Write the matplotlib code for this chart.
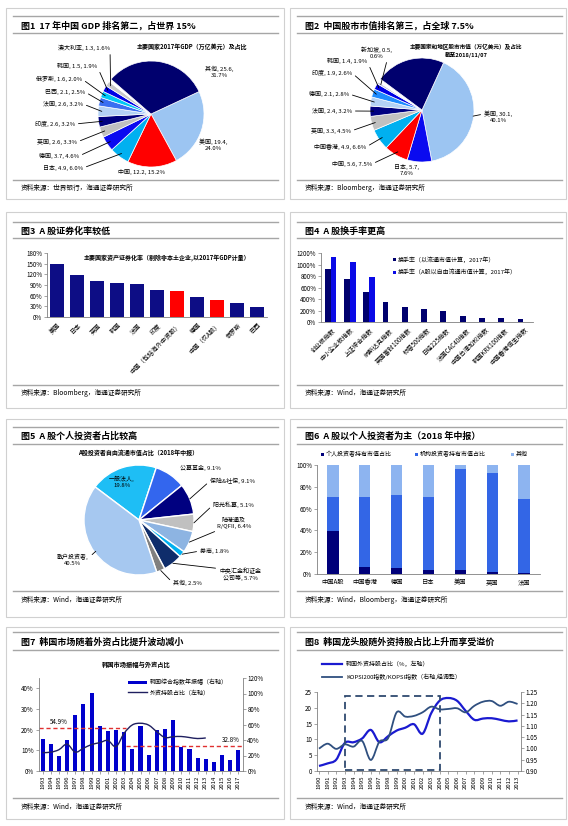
import numpy as np
import matplotlib
matplotlib.use('Agg')
import matplotlib.pyplot as plt
from matplotlib.patches import Rectangle, PathPatch
from matplotlib.path import Path
from matplotlib.lines import Line2D

plt.rcParams['font.family'] = ['Noto Sans CJK SC', 'DejaVu Sans']
plt.rcParams['axes.unicode_minus'] = False

W, H = 568, 826

# ---------------- data ----------------
titles = ['图1  17 年中国 GDP 排名第二，占世界 15%',
          '图2  中国股市市值排名第三，占全球 7.5%',
          '图3  A 股证券化率较低',
          '图4  A 股换手率更高',
          '图5  A 股个人投资者占比较高',
          '图6  A 股以个人投资者为主（2018 年中报）',
          '图7  韩国市场随着外资占比提升波动减小',
          '图8  韩国龙头股随外资持股占比上升而享受溢价']
sources = ['资料来源：世界银行，海通证券研究所',
           '资料来源：Bloomberg，海通证券研究所',
           '资料来源：Bloomberg，海通证券研究所',
           '资料来源：Wind，海通证券研究所',
           '资料来源：Wind，海通证券研究所',
           '资料来源：Wind，Bloomberg，海通证券研究所',
           '资料来源：Wind，海通证券研究所',
           '资料来源：Wind，海通证券研究所']

# fig 1: GDP 2017 (trillion USD) and share
gdp_names = ['美国', '中国', '日本', '德国', '英国', '印度', '法国', '巴西', '俄罗斯', '韩国', '澳大利亚', '', '其他']
gdp_values = [19.4, 12.2, 4.9, 3.7, 2.6, 2.6, 2.6, 2.1, 1.6, 1.5, 1.3, 0.7, 25.6]
gdp_shares = [24.0, 15.2, 6.0, 4.6, 3.3, 3.2, 3.2, 2.5, 2.0, 1.9, 1.6, 0.0, 31.7]
gdp_colors = ['#9CC5F2', '#FF0000', '#00B0F0', '#0A0AF0', '#C0C0C0', '#000080',
              '#B4D2F5', '#3A6EF0', '#00C8F5', '#0000E6', '#C8C8C8', '#FFFFFF', '#00006E']

# fig 2: stock market cap (trillion USD) and share
mcap_names = ['美国', '日本', '中国', '中国香港', '英国', '法国', '德国', '印度', '韩国', '新加坡', '', '其他']
mcap_values = [30.1, 5.7, 5.6, 4.9, 3.3, 2.4, 2.1, 1.9, 1.4, 0.5, 0.8, 16.2]
mcap_shares = [40.1, 7.6, 7.5, 6.6, 4.5, 3.2, 2.8, 2.6, 1.9, 0.6, 0.0, 0.0]
mcap_colors = ['#9CC5F2', '#0A0AF0', '#FF0000', '#00B0F0', '#C0C0C0', '#000080',
               '#B4D2F5', '#1E8CFF', '#0000E6', '#C8C8E0', '#FFFFFF', '#00006E']

# fig 3: securitization ratio
sec_names = ['美国', '日本', '英国', '韩国', '法国', '印度', '中国（包括海外中资股）',
             '德国', '中国（仅A股）', '俄罗斯', '巴西']
sec_values = [148, 118, 102, 95, 93, 75, 74, 55, 47, 40, 27]
sec_colors = ['#0D0D85'] * 6 + ['#FF0000', '#0D0D85', '#FF0000', '#0D0D85', '#0D0D85']

# fig 4: turnover
turn_names = ['创业板指数', '中小企业板指数', '上证综合指数', '纳斯达克指数', '英国富时100指数',
              '标普500指数', '日经225指数', '法国CAC40指数', '中国台湾加权指数',
              '韩国KRX100指数', '中国香港恒生指数']
turn_float = [915, 740, 525, 345, 255, 220, 200, 110, 65, 65, 55]
turn_free = [1135, 1045, 790, np.nan, np.nan, np.nan, np.nan, np.nan, np.nan, np.nan, np.nan]

# fig 5: A-share holders by free-float market cap
hold_names = ['一般法人', '公募基金', '保险&社保', '阳光私募', '陆港通及\nR/QFII', '券商',
              '中央汇金和证金\n公司等', '其他', '散户投资者']
hold_values = [19.8, 9.1, 9.1, 5.1, 6.4, 1.8, 5.7, 2.5, 40.5]
hold_colors = ['#1EBEF5', '#3366EE', '#000080', '#C0C0C0', '#8DB4E2', '#00B0F0',
               '#0F2D6B', '#808080', '#A6C8F0']

# fig 6: investor structure
inv_markets = ['中国A股', '中国香港', '德国', '日本', '美国', '英国', '法国']
inv_retail = [39.5, 6.0, 5.5, 4.0, 3.5, 2.0, 1.0]
inv_inst = [31.5, 64.5, 67.0, 66.5, 93.0, 91.0, 67.5]
inv_other = [29.0, 29.5, 27.5, 29.5, 3.5, 7.0, 31.5]
inv_labels = ['个人投资者持有市值占比', '机构投资者持有市值占比', '其他']
inv_colors = ['#00007A', '#3366E6', '#8DB4F0']

# fig 7: Korea amplitude (right) and foreign share (left)
k_years = list(range(1993, 2018))
k_amplitude = [40.9, 34.4, 18.9, 39.6, 71.8, 86.4, 101.0, 57.6, 51.2, 53.3, 50.3, 28.0, 58.0,
               20.2, 52.5, 53.8, 65.4, 31.0, 28.8, 16.8, 15.0, 11.2, 21.1, 13.8, 27.5]
k_amp_avg = [54.9, 32.8]

# fig 8: foreign share (left, %) and KOSPI200/KOSPI ratio (right), 1990-2013
f_years = list(range(1990, 2014))
foreign_share = [1.6, 2.4, 3.6, 8.9, 9.1, 10.3, 13.0, 9.1, 11.0, 12.8, 13.7, 14.8, 11.8,
                 18.3, 22.3, 23.1, 22.2, 19.0, 16.2, 16.6, 16.7, 16.2, 15.7, 16.0]
kospi_ratio = [0.999, 1.021, 0.998, 1.018, 1.008, 1.033, 0.949, 1.030, 1.045, 1.160, 1.141,
               1.144, 1.160, 1.185, 1.173, 1.175, 1.178, 1.160, 1.189, 1.207, 1.210, 1.189,
               1.207, 1.197]

# ---------------- helpers ----------------
fig = plt.figure(figsize=(W / 100, H / 100), dpi=100)
fig.patch.set_facecolor('white')


def fx(x):
    return x / W


def fy(y):
    return 1 - y / H


def px_axes(l, t, r, b):
    return fig.add_axes([fx(l), fy(b), (r - l) / W, (b - t) / H])


def ftext(x, y, s, **kw):
    kw.setdefault('va', 'center')
    fig.text(fx(x), fy(y), s, **kw)


def hline(x0, x1, y, color='#A6A6A6', lw=1.0, **kw):
    fig.add_artist(Line2D([fx(x0), fx(x1)], [fy(y), fy(y)], transform=fig.transFigure,
                          color=color, lw=lw, **kw))


def frect(x, y, w, h, color, **kw):
    fig.add_artist(Rectangle((fx(x), fy(y + h)), w / W, h / H, transform=fig.transFigure,
                             facecolor=color, **kw))


def style(ax, fs=4.5):
    for s in ['top', 'right']:
        ax.spines[s].set_visible(False)
    for s in ['left', 'bottom']:
        ax.spines[s].set_color('#808080')
        ax.spines[s].set_linewidth(0.6)
    ax.tick_params(labelsize=fs, length=2, width=0.5, color='#808080', pad=1.5)
    ax.set_facecolor('none')


def smooth_path(x, y):
    # smoothed line through the data points (cubic Bezier segments)
    x = np.asarray(x, float)
    y = np.asarray(y, float)
    n = len(x)
    verts = [(x[0], y[0])]
    codes = [Path.MOVETO]
    for i in range(n - 1):
        a, b = max(i - 1, 0), min(i + 2, n - 1)
        c1 = (x[i] + (x[i + 1] - x[a]) / 6, y[i] + (y[i + 1] - y[a]) / 6)
        c2 = (x[i + 1] - (x[b] - x[i]) / 6, y[i + 1] - (y[b] - y[i]) / 6)
        verts += [c1, c2, (x[i + 1], y[i + 1])]
        codes += [Path.CURVE4] * 3
    return Path(verts, codes)


def pie_axes(cx, cy, r):
    ax = px_axes(cx - r, cy - r, cx + r, cy + r)
    return ax


def pie_label(ax, wedge, text, tx, ty, ha='right', r=0.93, line=True, fs=4.3, relpos=None):
    ang = np.deg2rad((wedge.theta1 + wedge.theta2) / 2)
    pt = (r * np.cos(ang), r * np.sin(ang))
    if relpos is None:
        relpos = (1, 0.5) if ha == 'right' else (0, 0.5)
    if line:
        ax.annotate(text, xy=pt, xycoords='data', xytext=(tx, H - ty),
                    textcoords='figure pixels', ha=ha, va='center', fontsize=fs,
                    multialignment='center', annotation_clip=False,
                    arrowprops=dict(arrowstyle='-', color='black', lw=0.6,
                                    shrinkA=0.5, shrinkB=0, relpos=relpos))
    else:
        ftext(tx, ty, text, ha=ha, fontsize=fs, multialignment='center')


# ---------------- frames / titles / sources ----------------
cols = [(6, 284, 13, 278), (290, 566, 297, 562)]
rows = [(8, 199, 16, 26, 33, 180, 188),
        (212, 408, 222, 231, 238, 385, 393),
        (419, 617, 427, 436, 444, 591, 600),
        (627, 819, 632, 642, 650, 798, 807)]
for i in range(8):
    bx0, bx1, lx0, lx1 = cols[i % 2]
    top, bot, l1, ty, l2, l3, sy = rows[i // 2]
    fig.add_artist(Rectangle((fx(bx0), fy(bot)), (bx1 - bx0) / W, (bot - top) / H,
                             transform=fig.transFigure, facecolor='none',
                             edgecolor='#D0D0D0', lw=0.8))
    hline(lx0, lx1, l1)
    hline(lx0, lx1, l2)
    hline(lx0, lx1, l3)
    ftext(lx0 + 8, ty, titles[i], fontsize=6.5, fontweight='bold')
    ftext(lx0 + 8, sy, sources[i], fontsize=4.8)

# ---------------- fig 1 ----------------
ax1 = pie_axes(151, 114, 53)
w1, _ = ax1.pie(gdp_values, colors=gdp_colors, startangle=25, counterclock=False,
                wedgeprops=dict(edgecolor='white', linewidth=0.5))
ax1.set_xlim(-1, 1)
ax1.set_ylim(-1, 1)
ftext(137, 46, '主要国家2017年GDP（万亿美元）及占比', fontsize=4.3, fontweight='bold')
g_pos = {2: (83, 168), 3: (79, 156), 4: (77, 142), 5: (75, 124), 6: (83, 104),
         7: (85, 92), 8: (82, 79), 9: (97, 66), 10: (110, 48)}
for k, (tx, ty) in g_pos.items():
    pie_label(ax1, w1[k], f'{gdp_names[k]}, {gdp_values[k]}, {gdp_shares[k]:.1f}%', tx, ty)
pie_label(ax1, w1[0], f'{gdp_names[0]}, {gdp_values[0]},\n{gdp_shares[0]:.1f}%', 199, 145,
          ha='left', line=False)
pie_label(ax1, w1[1], f'{gdp_names[1]}, {gdp_values[1]}, {gdp_shares[1]:.1f}%', 142, 172,
          ha='center', line=False)
pie_label(ax1, w1[12], f'{gdp_names[12]}, {gdp_values[12]},\n{gdp_shares[12]:.1f}%', 205, 72,
          ha='left', line=False)

# ---------------- fig 2 ----------------
ax2 = pie_axes(422, 110, 52)
w2, _ = ax2.pie(mcap_values, colors=mcap_colors, startangle=65.5, counterclock=False,
                wedgeprops=dict(edgecolor='white', linewidth=0.5))
ax2.set_xlim(-1, 1)
ax2.set_ylim(-1, 1)
ftext(466, 51, '主要国家和地区股市市值（万亿美元）及占比\n截至2018/11/07', fontsize=4.1,
      fontweight='bold', ha='center', multialignment='center', linespacing=1.3)
m_pos = {8: (367, 61), 7: (352, 73), 6: (349, 94), 5: (352, 111), 4: (351, 131),
         3: (366, 147), 2: (372, 164)}
for k, (tx, ty) in m_pos.items():
    pie_label(ax2, w2[k], f'{mcap_names[k]}, {mcap_values[k]}, {mcap_shares[k]:.1f}%', tx, ty)
pie_label(ax2, w2[9], f'{mcap_names[9]}, {mcap_values[9]},\n{mcap_shares[9]:.1f}%', 392, 53,
          relpos=(0.85, 0.0))
pie_label(ax2, w2[1], f'{mcap_names[1]}, {mcap_values[1]},\n{mcap_shares[1]:.1f}%', 407, 170,
          ha='center', line=False)
pie_label(ax2, w2[0], f'{mcap_names[0]}, {mcap_values[0]},\n{mcap_shares[0]:.1f}%', 484, 117,
          ha='left', r=0.99, relpos=(0, 0.75))

# ---------------- fig 3 ----------------
ax3 = px_axes(47, 253, 267, 317)
style(ax3)
x3 = np.arange(len(sec_names))
ax3.bar(x3, sec_values, width=0.68, color=sec_colors)
ax3.set_xlim(-0.5, len(sec_names) - 0.5)
ax3.set_ylim(0, 180)
ax3.set_yticks(range(0, 181, 30))
ax3.set_yticklabels([f'{v}%' for v in range(0, 181, 30)])
ax3.set_xticks(x3)
ax3.set_xticklabels(sec_names, rotation=45, ha='right', rotation_mode='anchor')
ax3.tick_params(axis='x', length=0, pad=3)
ftext(167, 258, '主要国家资产证券化率（剔除非本土企业,以2017年GDP计量）', fontsize=4.3,
      fontweight='bold', ha='center')

# ---------------- fig 4 ----------------
ax4 = px_axes(321, 253, 533, 322)
style(ax4)
x4 = np.arange(len(turn_names))
ax4.bar(x4 - 0.15, turn_float, width=0.3, color='#00006E')
ax4.bar(x4 + 0.15, turn_free, width=0.3, color='#0A0AE6')
ax4.set_xlim(-0.5, len(turn_names) - 0.5)
ax4.set_ylim(0, 1200)
ax4.set_yticks(range(0, 1201, 200))
ax4.set_yticklabels([f'{v}%' for v in range(0, 1201, 200)])
ax4.set_xticks(x4)
ax4.set_xticklabels(turn_names, rotation=45, ha='right', rotation_mode='anchor')
ax4.tick_params(axis='x', length=0, pad=3)
frect(393, 258.5, 3, 3, '#00006E')
ftext(398, 260, '换手率（以流通市值计算，2017年）', fontsize=4.3)
frect(393, 270.5, 3, 3, '#0A0AE6')
ftext(398, 272, '换手率（A股以自由流通市值计算，2017年）', fontsize=4.3)

# ---------------- fig 5 ----------------
ax5 = pie_axes(139, 520, 55)
w5, _ = ax5.pie(hold_values, colors=hold_colors, startangle=143, counterclock=False,
                wedgeprops=dict(edgecolor='white', linewidth=1.0))
ax5.set_xlim(-1, 1)
ax5.set_ylim(-1, 1)
ftext(138, 453, 'A股投资者自由流通市值占比（2018年中报）', fontsize=4.3, fontweight='bold',
      ha='center')
lab5 = [f'{n}, {v}%' for n, v in zip(hold_names, hold_values)]
pie_label(ax5, w5[0], f'{hold_names[0]},\n{hold_values[0]}%', 122, 482, ha='center', line=False)
pie_label(ax5, w5[1], lab5[1], 180, 468, ha='left', line=False)
pie_label(ax5, w5[2], lab5[2], 210, 481, ha='left', r=1.0)
pie_label(ax5, w5[3], lab5[3], 213, 505, ha='left', r=1.0)
pie_label(ax5, w5[4], lab5[4], 234, 523, ha='center', r=1.0, relpos=(0.15, 0.0))
pie_label(ax5, w5[5], lab5[5], 200, 551, ha='left', r=1.0)
pie_label(ax5, w5[6], lab5[6], 240, 574, ha='center', r=1.0, relpos=(0.0, 0.9))
pie_label(ax5, w5[7], lab5[7], 173, 583, ha='left', r=1.0)
pie_label(ax5, w5[8], f'{hold_names[8]},\n{hold_values[8]}%', 73, 560, ha='center',
          r=0.97, relpos=(1.0, 0.7))

# ---------------- fig 6 ----------------
ax6 = px_axes(317, 465, 540, 574)
style(ax6)
x6 = np.arange(len(inv_markets))
bottom = np.zeros(len(inv_markets))
for vals, col in zip([inv_retail, inv_inst, inv_other], inv_colors):
    ax6.bar(x6, vals, bottom=bottom, width=0.35, color=col)
    bottom = bottom + np.array(vals)
ax6.set_xlim(-0.5, len(inv_markets) - 0.5)
ax6.set_ylim(0, 100)
ax6.set_yticks(range(0, 101, 20))
ax6.set_yticklabels([f'{v}%' for v in range(0, 101, 20)])
ax6.set_xticks(x6)
ax6.set_xticklabels(inv_markets)
ax6.tick_params(axis='x', length=0, pad=3)
for lx, lab, col in zip([321, 415, 511], inv_labels, inv_colors):
    frect(lx, 452.5, 3, 3, col)
    ftext(lx + 5, 454, lab, fontsize=4.3)

# ---------------- fig 7 ----------------
ax7 = px_axes(38.5, 678, 242.5, 771)
ax7l = ax7.twinx()
x7 = np.arange(len(k_years))
ax7.bar(x7, k_amplitude, width=0.5, color='#0000CC')
ax7.hlines(k_amp_avg[0], -0.5, 10.2, colors='#E03030', linestyles=(0, (3, 2)), lw=1.0)
ax7.hlines(k_amp_avg[1], 10.2, len(k_years) - 0.5, colors='#E03030', linestyles=(0, (3, 2)), lw=1.0)
ax7.set_xlim(-0.5, len(k_years) - 0.5)
ax7.set_ylim(0, 120)
for s in ['top', 'left']:
    ax7.spines[s].set_visible(False)
for s in ['right', 'bottom']:
    ax7.spines[s].set_color('#808080')
    ax7.spines[s].set_linewidth(0.6)
ax7.set_xticks(x7)
ax7.set_xticklabels([str(y) for y in k_years], rotation=90)
ax7.tick_params(labelsize=4.5, length=2, width=0.5, color='#808080', pad=1.5)
ax7.tick_params(axis='x', labelsize=4.3)

k_share = foreign_share[3:]
ax7l.add_patch(PathPatch(smooth_path(np.arange(len(k_share)), k_share), fill=False,
                         edgecolor='#1F1F5F', lw=1.0))
ax7l.set_xlim(-0.5, len(k_years) - 0.5)
ax7l.set_ylim(0, 45)
for s in ['top', 'right', 'bottom']:
    ax7l.spines[s].set_visible(False)
ax7l.spines['left'].set_visible(True)
ax7l.spines['left'].set_color('#808080')
ax7l.spines['left'].set_linewidth(0.6)
ax7l.tick_params(labelsize=4.5, length=2, width=0.5, color='#808080', pad=1.5)

# amplitude on the right, foreign share on the left
ax7.yaxis.tick_right()
ax7.set_yticks(range(0, 121, 20))
ax7.set_yticklabels([f'{v}%' for v in range(0, 121, 20)])
ax7l.yaxis.tick_left()
ax7l.set_yticks(range(0, 41, 10))
ax7l.set_yticklabels([f'{v}%' for v in range(0, 41, 10)])

ftext(50, 722, f'{k_amp_avg[0]}%', fontsize=4.5)
ftext(222, 740, f'{k_amp_avg[1]}%', fontsize=4.5)
ftext(136, 665, '韩国市场振幅与外资占比', fontsize=4.5, fontweight='bold', ha='center')
frect(128, 680.5, 19, 3.5, '#0000CC')
ftext(150, 682, '韩国综合指数年振幅（右轴）', fontsize=4.3)
hline(128, 147, 692, color='#1F1F5F', lw=1.0)
ftext(150, 692, '外资持股占比（左轴）', fontsize=4.3)

# ---------------- fig 8 ----------------
ax8 = px_axes(317, 692, 521, 771)
style(ax8)
x8 = np.arange(len(f_years))
ax8.add_patch(PathPatch(smooth_path(x8, foreign_share), fill=False, edgecolor='#1A1AD0', lw=1.6))
ax8.set_xlim(-0.23, len(f_years) - 0.6)
ax8.set_ylim(0, 25)
ax8.set_yticks(range(0, 26, 5))
ax8.set_xticks(x8)
ax8.set_xticklabels([str(y) for y in f_years], rotation=90, fontsize=4.3)
ax8.add_patch(Rectangle((f_years.index(1993), 0.4), f_years.index(2004) - f_years.index(1993),
                        23.4, fill=False, edgecolor='#2F4A6F', lw=1.3, linestyle=(0, (4, 2.5))))
ax8r = ax8.twinx()
ax8r.set_facecolor('none')
for s in ['top', 'left', 'bottom']:
    ax8r.spines[s].set_visible(False)
ax8r.spines['right'].set_color('#808080')
ax8r.spines['right'].set_linewidth(0.6)
ax8r.add_patch(PathPatch(smooth_path(x8, kospi_ratio), fill=False, edgecolor='#2F4F7F', lw=1.3))
ax8r.set_ylim(0.90, 1.25)
ax8r.set_yticks(np.arange(0.90, 1.251, 0.05))
ax8r.set_yticklabels([f'{v:.2f}' for v in np.arange(0.90, 1.251, 0.05)])
ax8r.tick_params(labelsize=4.5, length=2, width=0.5, color='#808080', pad=1.5)
ax8r.set_xlim(-0.23, len(f_years) - 0.6)
hline(322, 342, 664, color='#1A1AD0', lw=1.6)
ftext(346, 664, '韩国外资持股占比（%，左轴）', fontsize=4.3)
hline(322, 342, 677, color='#2F4F7F', lw=1.3)
ftext(346, 677, 'KOPSI200指数/KOPSI指数（右轴,经调整）', fontsize=4.3)

fig.savefig('out.png', dpi=100)
